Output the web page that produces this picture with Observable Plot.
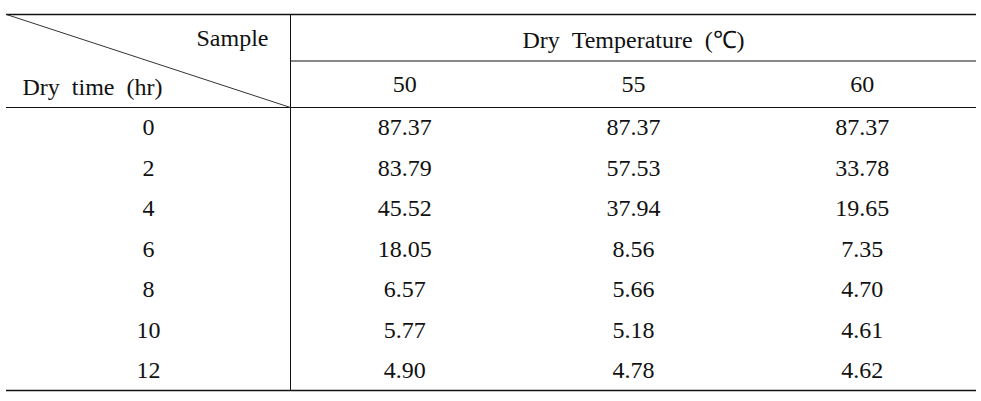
<!DOCTYPE html>
<html>
<head>
<meta charset="utf-8">
<script src="https://cdn.jsdelivr.net/npm/d3@7"></script>
<script src="https://cdn.jsdelivr.net/npm/@observablehq/plot@0.6"></script>
<style>
  html, body { margin: 0; padding: 0; background: #fff; }
  #chart svg { display: block; }
</style>
</head>
<body>
<div id="chart"></div>
<script>
// ---- data ----
const rowHeader = "Dry\u00a0\u00a0time\u00a0\u00a0(hr)";
const colHeader = "Sample";
const groupHeader = "Dry\u00a0\u00a0Temperature\u00a0\u00a0(\u2103)";
const temps = ["50", "55", "60"];
const times = [0, 2, 4, 6, 8, 10, 12];
const t50 = [87.37, 83.79, 45.52, 18.05, 6.57, 5.77, 4.90];
const t55 = [87.37, 57.53, 37.94, 8.56, 5.66, 5.18, 4.78];
const t60 = [87.37, 33.78, 19.65, 7.35, 4.70, 4.61, 4.62];
const series = [t50, t55, t60];

// ---- layout ----
const W = 981, H = 401;
const xLeft = 6, xRight = 976, xSplit = 290;
const yTop = 14, yMid = 60.5, yHead = 107, yBottom = 390;
const colW = (xRight - xSplit) / temps.length;
const colX = i => xSplit + colW * (i + 0.5);
const rowH = (yBottom - yHead) / times.length;
const rowY = i => yHead + rowH * (i + 0.5);
const firstColX = 148;
const FONT = "Liberation Serif";

const cells = [];
times.forEach((t, r) => {
  cells.push({x: firstColX, y: rowY(r), text: String(t)});
  series.forEach((s, c) => cells.push({x: colX(c), y: rowY(r), text: s[r].toFixed(2)}));
});
const tempCells = temps.map((t, c) => ({x: colX(c), y: (yMid + yHead) / 2, text: t}));

const hLines = [
  {y: yTop, x1: xLeft, x2: xRight, w: 1.3},
  {y: yMid, x1: xSplit, x2: xRight, w: 1},
  {y: yHead, x1: xLeft, x2: xRight, w: 1},
  {y: yBottom, x1: xLeft, x2: xRight, w: 1.3}
];

const textOpts = {x: "x", y: "y", text: "text", fontSize: 24, fill: "#111", fontFamily: FONT};

const chart = Plot.plot({
  width: W,
  height: H,
  margin: 0,
  x: {type: "linear", domain: [0, W], range: [0, W], axis: null},
  y: {type: "linear", domain: [0, H], range: [0, H], axis: null},
  style: {fontFamily: FONT, background: "#fff", color: "#111"},
  marks: [
    Plot.ruleY(hLines, {y: "y", x1: "x1", x2: "x2", stroke: "#111", strokeWidth: "w"}),
    Plot.ruleX([xSplit], {y1: yTop, y2: yBottom, stroke: "#111", strokeWidth: 1}),
    Plot.link([{x1: xLeft, y1: yTop, x2: xSplit, y2: yHead}], {x1: "x1", y1: "y1", x2: "x2", y2: "y2", stroke: "#333", strokeWidth: 1}),
    Plot.text([{x: 268, y: 38, text: colHeader}], {...textOpts, textAnchor: "end"}),
    Plot.text([{x: 22, y: 87, text: rowHeader}], {...textOpts, textAnchor: "start"}),
    Plot.text([{x: (xSplit + xRight) / 2, y: 40, text: groupHeader}], textOpts),
    Plot.text(tempCells, textOpts),
    Plot.text(cells, textOpts)
  ]
});
document.getElementById("chart").appendChild(chart);
</script>
</body>
</html>
